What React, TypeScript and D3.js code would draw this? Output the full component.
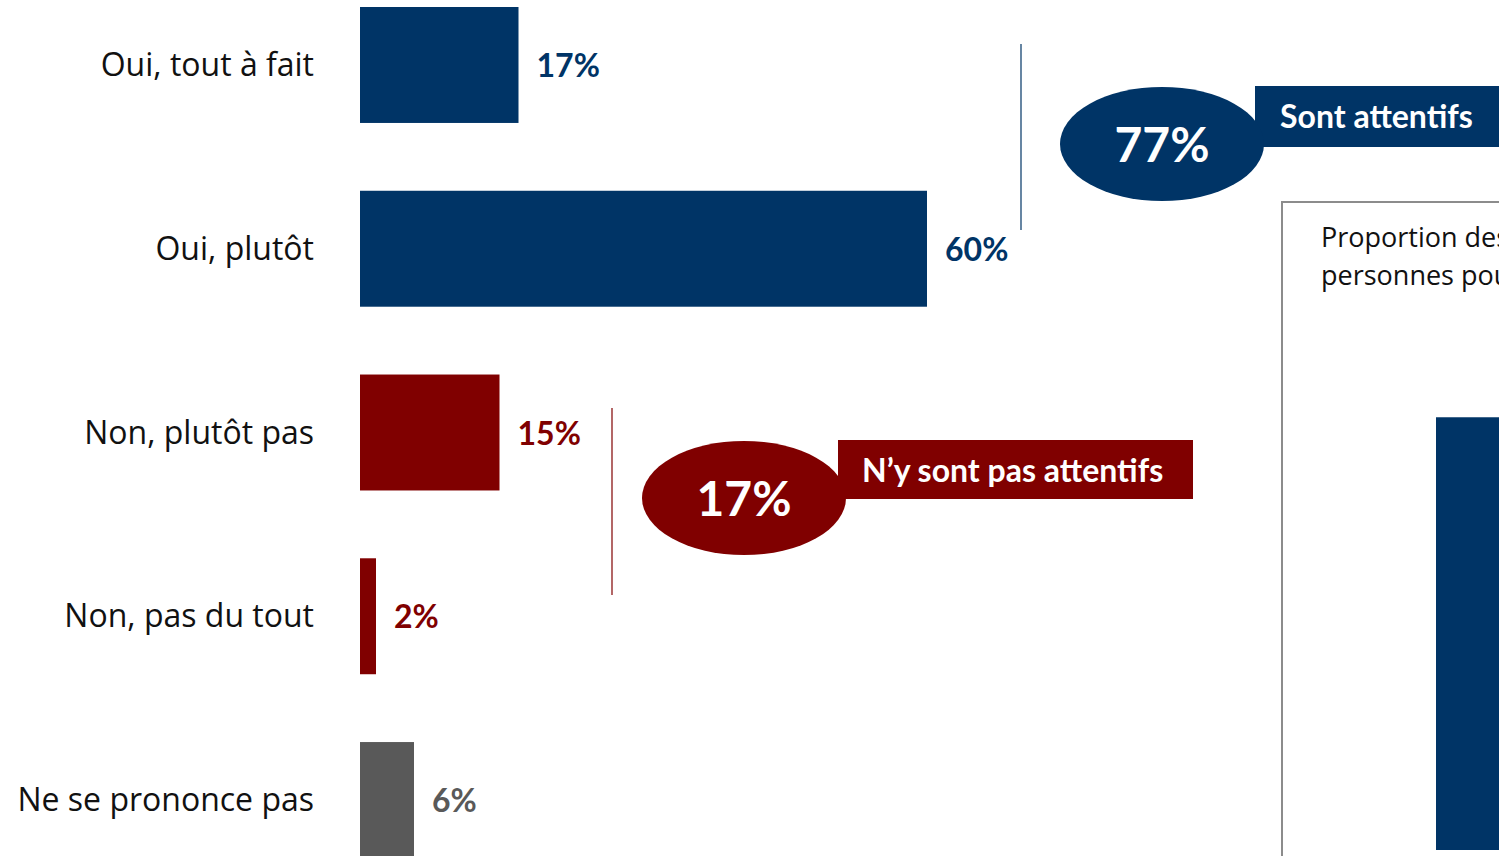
import React from "react";
import * as d3 from "d3";

const categories = ["Oui, tout à fait", "Oui, plutôt", "Non, plutôt pas", "Non, pas du tout", "Ne se prononce pas"];
const values = [17, 60, 15, 2, 6];
const groups = ["pos", "pos", "neg", "neg", "nsp"];
const colors: Record<string, string> = { pos: "#003466", neg: "#800000", nsp: "#595959" };
const groupLabels = { pos: "Sont attentifs", neg: "N\u2019y sont pas attentifs" };
const panelLines = ["Proportion des", "personnes pour"];
const panelValues = [77];

const W = 1499;
const H = 856;
const FONT = "Lato, 'Open Sans', sans-serif";
const LABEL_FONT = "'Open Sans', sans-serif";

export default function App() {
  const x = d3.scaleLinear().domain([0, 60]).range([357, 927]);
  const barStart = 360;
  const y = d3.scaleBand<string>().domain(categories).range([7, 858]).paddingInner(0.369).paddingOuter(0);
  const bw = y.bandwidth();

  const posTotal = d3.sum(values.filter((_, i) => groups[i] === "pos"));
  const negTotal = d3.sum(values.filter((_, i) => groups[i] === "neg"));

  const py = d3.scaleLinear().domain([0, 100]).range([850, 288]);

  return (
    <svg
      width={W}
      height={H}
      style={{ position: "absolute", left: 0, top: 0, display: "block", background: "#fff" }}
      fontFamily={FONT}
    >
      <rect x={0} y={0} width={W} height={H} fill="#fff" />
      {categories.map((c, i) => {
        const yc = (y(c) as number) + bw / 2;
        return (
          <g key={c}>
            <text x={314} y={yc + 11} textAnchor="end" fontSize={32} fill="#111" fontFamily={LABEL_FONT}>
              {c}
            </text>
            <rect x={barStart} y={y(c)} width={Math.max(0, x(values[i]) - barStart)} height={bw} fill={colors[groups[i]]} />
            <text
              x={x(values[i]) + 18}
              y={yc + 12}
              fontSize={32}
              fontWeight={700}
              fill={colors[groups[i]]}
            >
              {values[i]}%
            </text>
          </g>
        );
      })}

      {/* bracket lines */}
      <line x1={1021} x2={1021} y1={44} y2={230} stroke={colors.pos} strokeWidth={1.2} />
      <line x1={612} x2={612} y1={408} y2={595} stroke={colors.neg} strokeWidth={1.2} />

      {/* positive badge */}
      <g>
        <rect x={1255} y={86} width={260} height={61} fill={colors.pos} />
        <ellipse cx={1162} cy={144} rx={102} ry={57} fill={colors.pos} />
        <text x={1280} y={128} fontSize={32} fontWeight={700} fill="#fff">
          {groupLabels.pos}
        </text>
        <text x={1162} y={162} textAnchor="middle" fontSize={48} fontWeight={700} fill="#fff">
          {posTotal}%
        </text>
      </g>

      {/* negative badge */}
      <g>
        <rect x={838} y={440} width={355} height={59} fill={colors.neg} />
        <ellipse cx={744} cy={498} rx={102} ry={57} fill={colors.neg} />
        <text x={862} y={482} fontSize={32} fontWeight={700} fill="#fff">
          {groupLabels.neg}
        </text>
        <text x={744} y={516} textAnchor="middle" fontSize={48} fontWeight={700} fill="#fff">
          {negTotal}%
        </text>
      </g>

      {/* right panel */}
      <g>
        <path d={`M1282,${H} V202 H${W + 5}`} fill="none" stroke="#8c8c8c" strokeWidth={2} />
        {panelLines.map((t, i) => (
          <text key={t} x={1321} y={247 + i * 38} fontSize={27} fill="#111" fontFamily={LABEL_FONT}>
            {t}
          </text>
        ))}
        {panelValues.map((v, i) => (
          <rect key={i} x={1436} y={py(v)} width={120} height={py(0) - py(v)} fill={colors.pos} />
        ))}
      </g>
    </svg>
  );
}
